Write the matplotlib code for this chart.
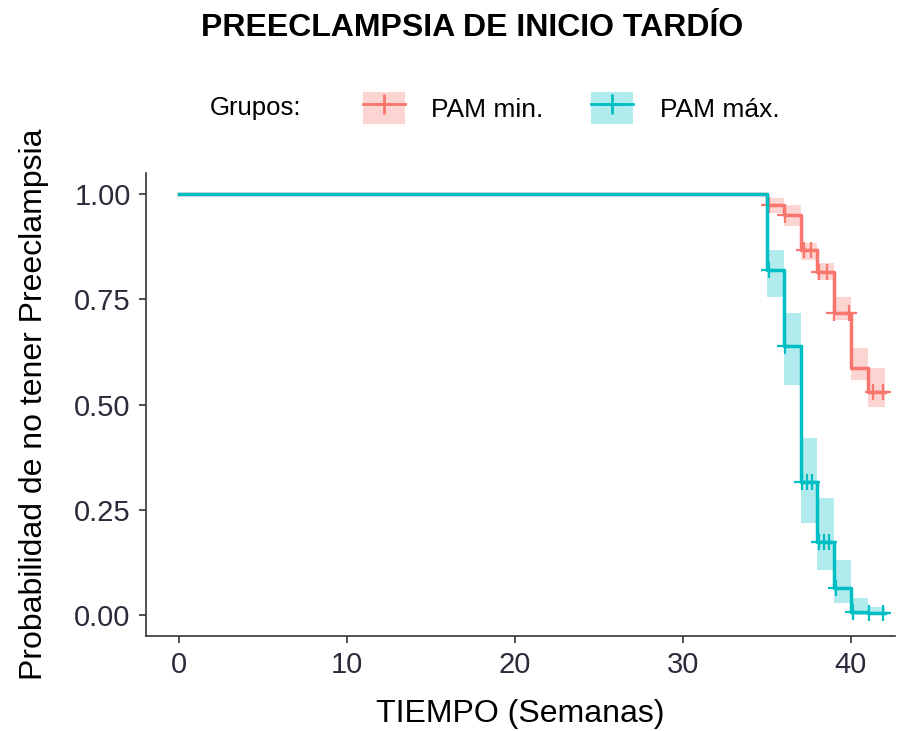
import matplotlib
matplotlib.use("Agg")
import matplotlib.pyplot as plt
import numpy as np
from matplotlib.patches import Patch
from matplotlib.lines import Line2D

plt.rcParams['font.family'] = ['Liberation Sans', 'DejaVu Sans']

# Curva PAM min. (tiempos en semanas, supervivencia, IC)
t_min = [0, 35, 36, 37, 38, 39, 40, 41, 42]
s_min = [1.0, 0.974, 0.95, 0.867, 0.815, 0.717, 0.587, 0.53, 0.53]
lo_min = [1.0, 0.955, 0.925, 0.843, 0.796, 0.700, 0.558, 0.494, 0.494]
hi_min = [1.0, 0.99, 0.975, 0.884, 0.836, 0.755, 0.634, 0.587, 0.587]
cens_min = [35.1, 36.1, 37.2, 37.6, 38.1, 38.6, 39.0, 39.9, 41.3, 41.9]

# Curva PAM máx.
t_max = [0, 35, 36, 37, 38, 39, 40, 41, 42]
s_max = [1.0, 0.82, 0.64, 0.316, 0.173, 0.064, 0.007, 0.005, 0.005]
lo_max = [1.0, 0.755, 0.546, 0.218, 0.107, 0.028, 0.0, 0.0, 0.0]
hi_max = [1.0, 0.867, 0.717, 0.42, 0.278, 0.13, 0.04, 0.02, 0.02]
cens_max = [35.1, 36.1, 37.1, 37.4, 37.7, 38.1, 38.4, 38.7, 39.1, 40.1, 41.1, 41.9]

grupos = ["PAM min.", "PAM máx."]
colores = ["#F8766D", "#00BFC4"]

fig = plt.figure(figsize=(9.12, 7.31), dpi=100)
ax = fig.add_axes([0.16, 0.13, 0.821, 0.633])


def nivel(t, s, x):
    i = np.searchsorted(t, x, side='right') - 1
    return np.array(s)[i]


curvas = [(t_min, s_min, lo_min, hi_min, cens_min),
          (t_max, s_max, lo_max, hi_max, cens_max)]
for (t, s, lo, hi, cens), col in zip(curvas, colores):
    ax.fill_between(t, lo, hi, step='post', color=col, alpha=0.3, lw=0)
    ax.step(t, s, where='post', color=col, lw=2.5)
    ax.plot(cens, nivel(t, s, cens), ls='none', marker='+', ms=12, mew=1.6, color=col)

ax.set_xlim(-1.96, 42.6)
ax.set_ylim(-0.05, 1.05)
ax.set_xticks([0, 10, 20, 30, 40])
ax.set_yticks([0, 0.25, 0.5, 0.75, 1.0])
ax.set_yticklabels(["0.00", "0.25", "0.50", "0.75", "1.00"])
ax.tick_params(labelsize=21, colors='#333333', length=5, width=1.2, pad=6)
ax.tick_params(labelcolor='#2b2b3b')
for lado in ['top', 'right']:
    ax.spines[lado].set_visible(False)
for lado in ['left', 'bottom']:
    ax.spines[lado].set_color('#333333')
    ax.spines[lado].set_linewidth(1.2)

ax.set_xlabel("TIEMPO (Semanas)", fontsize=23, labelpad=14)
ax.set_ylabel("Probabilidad de no tener Preeclampsia", fontsize=23, labelpad=18)

fig.text(0.518, 0.962, "PREECLAMPSIA DE INICIO TARDÍO", ha='center', va='center',
         fontsize=23, fontweight='bold')
fig.text(0.23, 0.852, "Grupos:", ha='left', va='center', fontsize=18.5)

handles = [(Patch(facecolor=c, alpha=0.3, lw=0),
            Line2D([], [], color=c, lw=2, marker='+', ms=14, mew=2)) for c in colores]
fig.legend(handles, grupos, loc='center', bbox_to_anchor=(0.626, 0.852), ncol=2,
           frameon=False, fontsize=19, handlelength=1.6, handleheight=1.5,
           columnspacing=1.8, handletextpad=1.0)

fig.savefig("out.png", dpi=100)
